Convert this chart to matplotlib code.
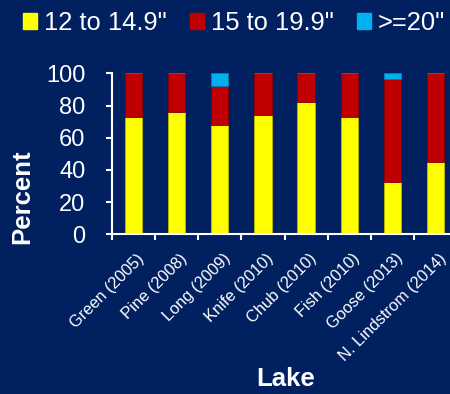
import matplotlib
matplotlib.use("Agg")
import matplotlib.pyplot as plt
import matplotlib.transforms as mtransforms
from matplotlib.patches import Patch
import numpy as np

lakes = ["Green (2005)", "Pine (2008)", "Long (2009)", "Knife (2010)",
         "Chub (2010)", "Fish (2010)", "Goose (2013)", "N. Lindstrom (2014)"]
size_12_149 = [73, 76, 68, 74, 82, 73, 32.5, 45]
size_15_199 = [27, 24, 24, 26, 18, 27, 64, 55]
size_20_up = [0, 0, 8, 0, 0, 0, 3.5, 0]
series_names = ['12 to 14.9"', '15 to 19.9"', '>=20"']
yticks = [0, 20, 40, 60, 80, 100]

BG = "#002060"
colors = ["#FFFF00", "#C00000", "#00B0F0"]
edges = ["#B8B800", "#8A0000", "#0080B0"]

plt.rcParams['font.family'] = ['Liberation Sans', 'DejaVu Sans']

W, H = 450, 394
fig = plt.figure(figsize=(W / 100, H / 100), dpi=100, facecolor=BG)
ax = fig.add_axes([112 / W, (H - 234.3) / H, (457 - 112) / W, 161 / H])
ax.set_facecolor(BG)

x = np.arange(len(lakes))
bottom = np.zeros(len(lakes))
for vals, c, e in zip([size_12_149, size_15_199, size_20_up], colors, edges):
    v = np.array(vals, dtype=float)
    ax.bar(x, v, width=0.4, bottom=bottom, color=c, edgecolor=e, linewidth=0.6)
    bottom += v

ax.set_xlim(-0.5, len(lakes) - 0.5)
ax.set_ylim(0, 100)
ax.set_yticks(yticks)
ax.set_yticklabels([str(t) for t in yticks])

for s in ["top", "right"]:
    ax.spines[s].set_visible(False)
for s in ["left", "bottom"]:
    ax.spines[s].set_color("white")
    ax.spines[s].set_linewidth(1.5)

ax.tick_params(axis="y", colors="white", direction="out", length=4, width=1.5,
               labelsize=17, pad=15)
ax.set_xticks(np.arange(-0.5, len(lakes), 1.0))
ax.set_xticklabels([])
ax.tick_params(axis="x", which="major", colors="white", direction="out",
               length=4, width=1.5)
ax.set_xticks(x, minor=True)
ax.set_xticklabels(lakes, minor=True)
ax.tick_params(axis="x", which="minor", length=0, labelsize=11.8,
               labelcolor="white", pad=12)
off = mtransforms.ScaledTranslation(3 / 100, 0, fig.dpi_scale_trans)
for lbl in ax.get_xticklabels(minor=True):
    lbl.set_rotation(45)
    lbl.set_ha("right")
    lbl.set_va("top")
    lbl.set_rotation_mode("anchor")
    lbl.set_transform(lbl.get_transform() + off)

ax.set_ylabel("Percent", color="white", fontsize=18.5, fontweight="bold")
ax.yaxis.set_label_coords(34 / W, 0.5, transform=fig.transFigure)
fig.text(285.5 / W, 1 - 379 / H, "Lake", color="white", fontsize=18.5,
         fontweight="bold", ha="center", va="center")

handles = [Patch(facecolor=c, edgecolor=c) for c in colors]
fig.legend(handles, series_names, loc="upper left",
           bbox_to_anchor=(18 / W, 1 - 6 / H), ncol=3, frameon=False,
           fontsize=18.4, labelcolor="white", handlelength=0.55,
           handleheight=0.55, handletextpad=0.27, columnspacing=0.9,
           borderpad=0.2, borderaxespad=0)

fig.savefig("out.png", dpi=100, facecolor=BG)
